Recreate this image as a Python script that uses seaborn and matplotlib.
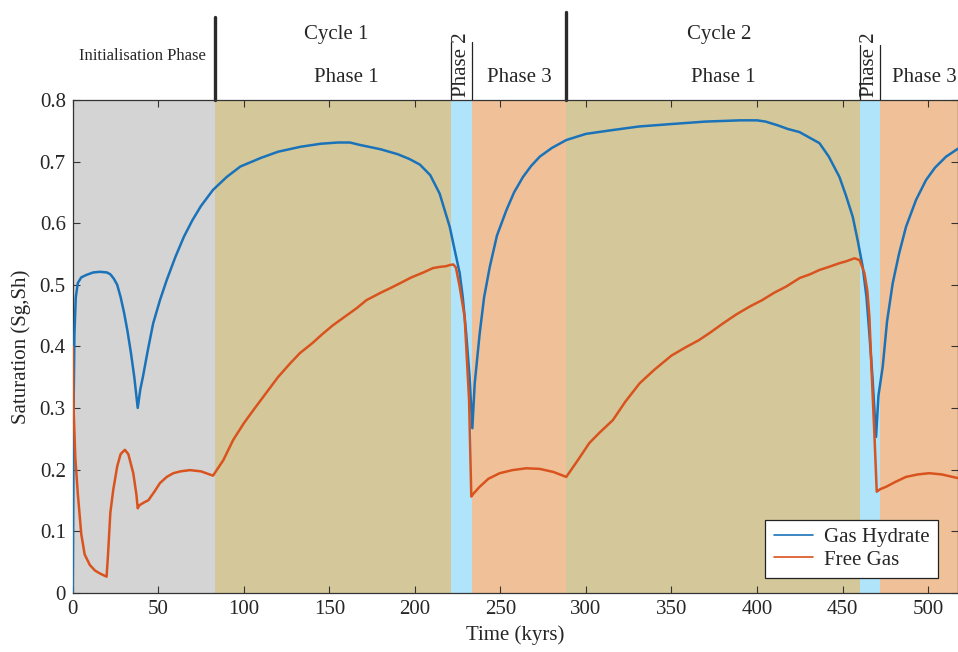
import numpy as np
import pandas as pd
import matplotlib
matplotlib.use("Agg")
import matplotlib.pyplot as plt
import matplotlib.transforms as mtransforms
from matplotlib.ticker import FuncFormatter
import seaborn as sns

# time (kyrs) and saturation values
hydrate_t = [0, 0.3, 0.6, 1, 1.8, 3, 5, 8, 12, 16, 20, 22, 24, 26, 28, 30, 32, 34, 36, 38,
             39.5, 41, 44, 47, 51, 55, 60, 65, 70, 75, 82, 90, 98, 110, 120, 133, 145, 155,
             162, 168, 180, 190, 197, 203, 209, 214.5, 220.4, 223, 226.2, 228, 230, 232, 233.6,
             235, 237.9, 240.5, 243.8, 248, 253.5, 258, 263.2, 268, 273, 280, 288.5, 300, 315,
             331, 350, 370, 390, 400, 405, 412, 418, 424.8, 436.5, 442, 448.2, 452, 456, 459,
             461.8, 464, 465.7, 467.5, 469.6, 471, 473.5, 476, 479.3, 483, 487.1, 493, 498.8,
             504, 510.5, 517.5]
hydrate_s = [0, 0.15, 0.32, 0.42, 0.48, 0.503, 0.512, 0.516, 0.52, 0.521, 0.52, 0.517, 0.51,
             0.5, 0.48, 0.455, 0.425, 0.39, 0.35, 0.30, 0.33, 0.35, 0.395, 0.437, 0.475, 0.508,
             0.545, 0.578, 0.605, 0.628, 0.654, 0.675, 0.692, 0.706, 0.716, 0.724, 0.729, 0.731,
             0.731, 0.727, 0.72, 0.712, 0.704, 0.695, 0.678, 0.648, 0.594, 0.56, 0.519, 0.48,
             0.421, 0.35, 0.267, 0.34, 0.421, 0.48, 0.529, 0.58, 0.621, 0.65, 0.675, 0.693,
             0.708, 0.722, 0.735, 0.745, 0.751, 0.757, 0.761, 0.765, 0.767, 0.767, 0.765, 0.759,
             0.753, 0.748, 0.73, 0.708, 0.675, 0.645, 0.61, 0.57, 0.529, 0.48, 0.42, 0.35, 0.253,
             0.32, 0.367, 0.44, 0.502, 0.55, 0.594, 0.638, 0.67, 0.69, 0.708, 0.721]

gas_t = [0, 0.5, 1.5, 3, 5, 7, 10, 13, 16, 19.8, 20.6, 22, 23.7, 26, 28, 30.5, 32.5, 35.4,
         37.2, 38, 39, 42, 44.2, 48, 51, 55, 58.8, 63, 68.5, 75, 82, 88, 93.8, 100, 106, 113,
         120, 127, 132.8, 140, 146, 152, 160, 166, 171.7, 180, 186, 191, 198, 205, 210.5,
         214.5, 218, 220.4, 222.5, 224, 226.2, 229.1, 231.7, 233, 234, 237.9, 243, 249.6, 257,
         265.2, 273, 281, 288.5, 295, 302, 308, 315.7, 323, 331.4, 340, 350, 358, 366, 373,
         380, 388, 396, 403, 410, 417, 425, 431, 436.5, 442, 448.2, 452, 457, 460, 462.8,
         464.5, 465.7, 467, 468.6, 470, 472, 475.5, 481, 487.1, 494, 500.7, 508, 517.5]
gas_s = [0.40, 0.30, 0.22, 0.16, 0.095, 0.062, 0.045, 0.036, 0.031, 0.026, 0.06, 0.13, 0.167,
         0.205, 0.225, 0.232, 0.225, 0.194, 0.16, 0.137, 0.142, 0.147, 0.15, 0.165, 0.178,
         0.188, 0.194, 0.197, 0.199, 0.197, 0.19, 0.215, 0.248, 0.275, 0.298, 0.324, 0.35,
         0.372, 0.389, 0.405, 0.42, 0.434, 0.45, 0.462, 0.475, 0.487, 0.495, 0.502, 0.512,
         0.52, 0.527, 0.529, 0.53, 0.532, 0.533, 0.528, 0.497, 0.448, 0.313, 0.156, 0.16,
         0.172, 0.185, 0.194, 0.199, 0.202, 0.201, 0.196, 0.188, 0.214, 0.243, 0.26, 0.28,
         0.31, 0.34, 0.362, 0.385, 0.398, 0.41, 0.423, 0.437, 0.452, 0.465, 0.475, 0.487,
         0.497, 0.511, 0.517, 0.524, 0.529, 0.535, 0.538, 0.543, 0.54, 0.519, 0.49, 0.448,
         0.36, 0.259, 0.164, 0.168, 0.172, 0.18, 0.188, 0.192, 0.194, 0.192, 0.186]

# background phases (start, end)
phase_edges = [0, 83.1, 221.4, 233.6, 288.5, 460, 471.7, 517.5]
phase_colors = ["#d4d4d4", "#d4c89b", "#afe4fa", "#f0c198", "#d4c89b", "#afe4fa", "#f0c198"]

df = pd.concat([
    pd.DataFrame({"t": hydrate_t, "s": hydrate_s, "kind": "Gas Hydrate"}),
    pd.DataFrame({"t": gas_t, "s": gas_s, "kind": "Free Gas"}),
])

sns.set_style("ticks")
plt.rcParams["font.family"] = ["Liberation Serif", "DejaVu Serif"]
plt.rcParams["xtick.direction"] = "in"
plt.rcParams["ytick.direction"] = "in"

FS = 15

fig = plt.figure(figsize=(9.58, 6.52), dpi=100)
ax = fig.add_axes([0.0759, 0.091, 0.9241, 0.7556])

for i, c in enumerate(phase_colors):
    ax.axvspan(phase_edges[i], phase_edges[i + 1], color=c, lw=0, zorder=0)

sns.lineplot(data=df, x="t", y="s", hue="kind", sort=False, estimator=None,
             palette={"Gas Hydrate": "#1a72b8", "Free Gas": "#d9531e"},
             lw=1.8, ax=ax, zorder=3)

ax.set_xlim(0, 517.5)
ax.set_ylim(0, 0.8)
ax.set_xticks(np.arange(0, 501, 50))
ax.set_yticks(np.arange(0, 0.81, 0.1))
ax.yaxis.set_major_formatter(FuncFormatter(lambda v, p: "%g" % round(v, 1)))
ax.tick_params(axis="both", labelsize=FS, length=5, width=0.8, top=True, right=True,
               color="#333333")
ax.tick_params(axis="x", pad=5)
ax.tick_params(axis="y", pad=5)
for sp in ax.spines.values():
    sp.set_linewidth(0.9)
    sp.set_color("#333333")
ax.set_xlabel("Time (kyrs)", fontsize=FS, labelpad=5)
ax.set_ylabel("Saturation (Sg,Sh)", fontsize=FS, labelpad=6)

leg = ax.legend(loc="lower right", bbox_to_anchor=(0.977, 0.03), fontsize=FS,
                frameon=True, fancybox=False, edgecolor="#222222", handlelength=1.9,
                borderpad=0.4, labelspacing=0.12, handletextpad=0.5, borderaxespad=0)
leg.get_frame().set_linewidth(0.9)
leg.get_frame().set_alpha(1)
for h in leg.get_lines():
    h.set_linewidth(1.2)

# header annotations above the axes
tr = mtransforms.blended_transform_factory(ax.transData, ax.transAxes)
ax.text(40.5, 1.089, "Initialisation Phase", transform=tr, ha="center", va="center", fontsize=12)
ax.text(153.8, 1.132, "Cycle 1", transform=tr, ha="center", va="center", fontsize=FS)
ax.text(160, 1.045, "Phase 1", transform=tr, ha="center", va="center", fontsize=FS)
ax.text(261.3, 1.045, "Phase 3", transform=tr, ha="center", va="center", fontsize=FS)
ax.text(378, 1.132, "Cycle 2", transform=tr, ha="center", va="center", fontsize=FS)
ax.text(380.5, 1.045, "Phase 1", transform=tr, ha="center", va="center", fontsize=FS)
ax.text(497.8, 1.045, "Phase 3", transform=tr, ha="center", va="center", fontsize=FS)
ax.text(227.5, 1.072, "Phase 2", transform=tr, ha="center", va="center", rotation=90, fontsize=FS)
ax.text(465.9, 1.072, "Phase 2", transform=tr, ha="center", va="center", rotation=90, fontsize=FS)

ax.plot([83.1, 83.1], [1.0, 1.1685], transform=tr, color="#2b2b2b", lw=2.4, clip_on=False)
ax.plot([288.5, 288.5], [1.0, 1.1786], transform=tr, color="#2b2b2b", lw=2.4, clip_on=False)
for xv, top in [(221.4, 1.117), (233.6, 1.117), (460, 1.111), (471.7, 1.111)]:
    ax.plot([xv, xv], [1.0, top], transform=tr, color="#222222", lw=0.9, clip_on=False)

plt.savefig("out.png", dpi=100)
